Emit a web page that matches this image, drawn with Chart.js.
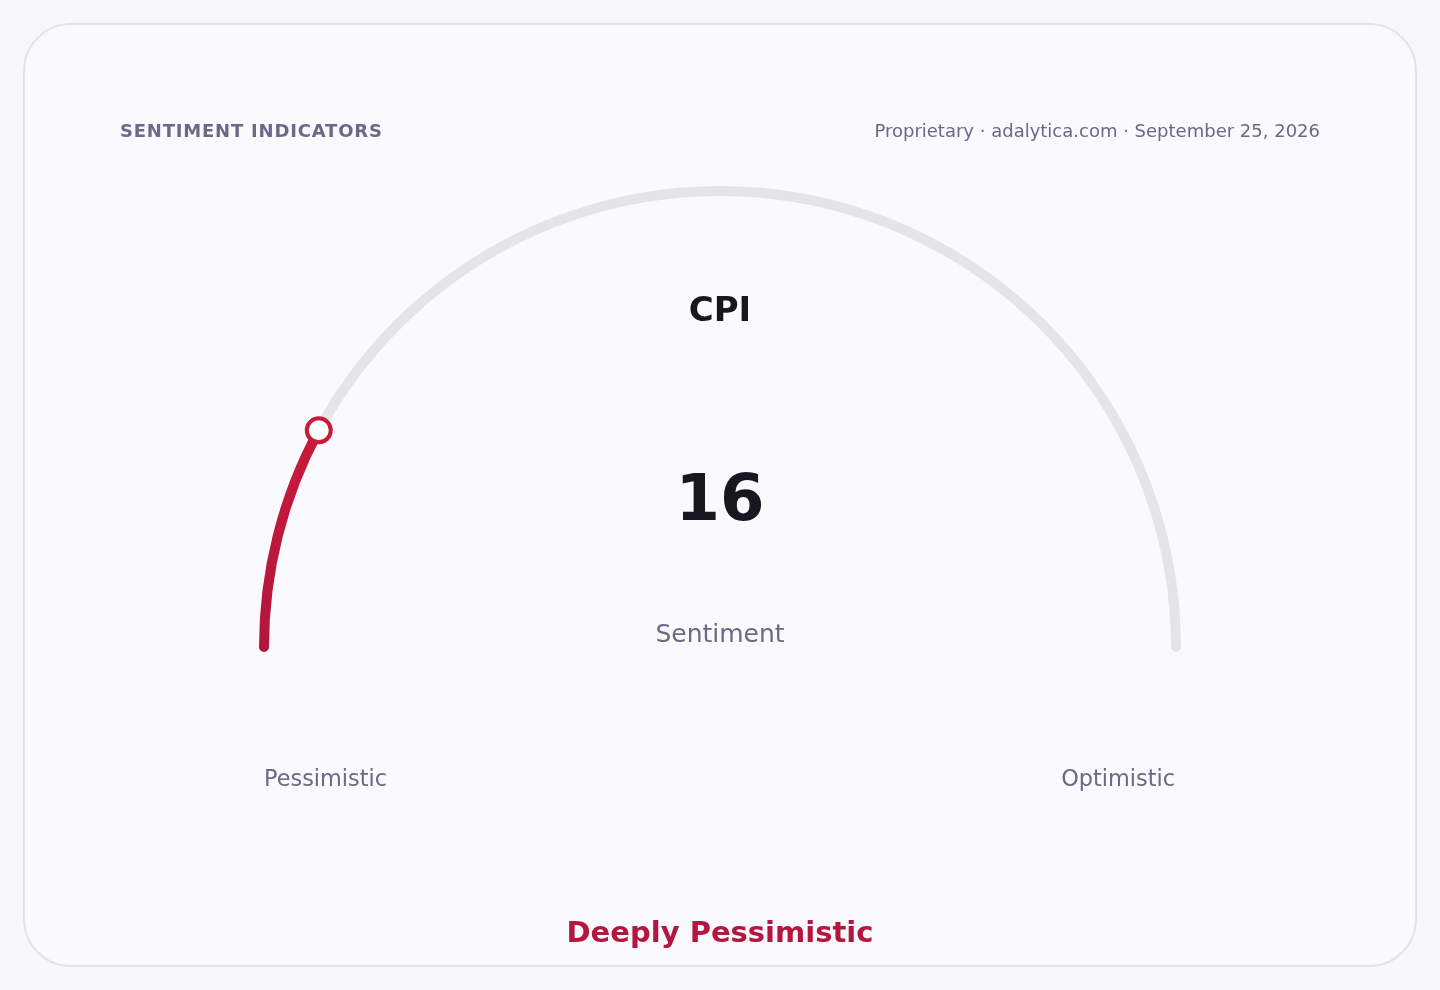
<!DOCTYPE html>
<html>
<head>
<meta charset="utf-8">
<script src="https://cdn.jsdelivr.net/npm/chart.js@4.4.1/dist/chart.umd.min.js"></script>
<style>
  html, body { margin: 0; padding: 0; background: #f8f8fc; }
  body { width: 1440px; height: 990px; position: relative; overflow: hidden; font-family: "DejaVu Sans", sans-serif; }
  .card {
    position: absolute; left: 23px; top: 23px; width: 1390px; height: 940px;
    border: 2px solid #e2e2ee; border-radius: 48px; background: #f9f9fe;
  }
  #gauge { position: absolute; left: 0; top: 0; }
  .txt { position: absolute; white-space: nowrap; line-height: 1; }
  .head { left: 120px; top: 122px; font-size: 18px; font-weight: bold; letter-spacing: 0.8px; color: #6c6888; }
  .meta { right: 120px; top: 122px; font-size: 18px; color: #6b6883; }
  .center { left: 0; width: 1440px; text-align: center; }
  .title { top: 292px; font-size: 34px; font-weight: bold; color: #17171f; }
  .value { top: 466px; font-size: 64px; font-weight: bold; color: #17171f; }
  .unit { top: 621px; font-size: 25px; color: #6b6985; }
  .zone { top: 767px; font-size: 22.4px; color: #6b6985; }
  .reading { top: 918px; font-size: 29px; font-weight: bold; color: #b3163e; }
</style>
</head>
<body>
<div class="card"></div>
<canvas id="gauge" width="1440" height="990"></canvas>
<div class="txt head" id="head"></div>
<div class="txt meta" id="meta"></div>
<div class="txt center title" id="title"></div>
<div class="txt center value" id="value"></div>
<div class="txt center unit" id="unit"></div>
<div class="txt zone" id="zoneLow" style="left:264px"></div>
<div class="txt zone" id="zoneHigh" style="right:265px"></div>
<div class="txt center reading" id="reading"></div>

<script>
  // Chart data
  const headerText = 'SENTIMENT INDICATORS';
  const sourceText = 'Proprietary · adalytica.com · September 25, 2026';
  const indexName = 'CPI';
  const indexValue = 16;
  const indexMax = 100;
  const valueUnit = 'Sentiment';
  const zoneLabels = ['Pessimistic', 'Optimistic'];
  const readingLabel = 'Deeply Pessimistic';

  const redDark = '#b2163d';
  const redLight = '#c91a3a';
  const trackColor = '#e5e4ea';

  document.getElementById('head').textContent = headerText;
  document.getElementById('meta').textContent = sourceText;
  document.getElementById('title').textContent = indexName;
  document.getElementById('value').textContent = indexValue;
  document.getElementById('unit').textContent = valueUnit;
  document.getElementById('zoneLow').textContent = zoneLabels[0];
  document.getElementById('zoneHigh').textContent = zoneLabels[1];
  document.getElementById('reading').textContent = readingLabel;

  // a little past 180 so the round caps reach just under the centre line
  const capDeg = 0.63;

  // Marker at the end of the value arc
  const markerPlugin = {
    id: 'marker',
    afterDatasetsDraw(chart) {
      const arc = chart.getDatasetMeta(0).data[0];
      if (!arc) return;
      const r = (arc.outerRadius + arc.innerRadius) / 2;
      const x = arc.x + r * Math.cos(arc.endAngle);
      const y = arc.y + r * Math.sin(arc.endAngle);
      const ctx = chart.ctx;
      ctx.save();
      ctx.beginPath();
      ctx.arc(x, y, 12, 0, Math.PI * 2);
      ctx.fillStyle = '#ffffff';
      ctx.fill();
      ctx.lineWidth = 4;
      ctx.strokeStyle = redLight;
      ctx.stroke();
      ctx.restore();
    }
  };

  const ctx = document.getElementById('gauge').getContext('2d');
  new Chart(ctx, {
    type: 'doughnut',
    data: {
      labels: [indexName, ''],
      datasets: [{
        data: [indexValue, indexMax - indexValue],
        backgroundColor: (c) => {
          if (c.dataIndex !== 0) return trackColor;
          const area = c.chart.chartArea;
          if (!area) return redDark;
          const g = c.chart.ctx.createLinearGradient(0, 650, 0, 425);
          g.addColorStop(0, redDark);
          g.addColorStop(1, redLight);
          return g;
        },
        borderWidth: 0,
        borderRadius: (c) => c.dataIndex === 0
          ? { outerStart: 5, innerStart: 5, outerEnd: 0, innerEnd: 0 }
          : { outerStart: 0, innerStart: 0, outerEnd: 5, innerEnd: 5 }
      }]
    },
    options: {
      responsive: false,
      animation: false,
      events: [],
      rotation: -90 - capDeg,
      circumference: 180 + 2 * capDeg,
      radius: 461,
      cutout: '97.83%',
      layout: { padding: { top: 0, left: 0, right: 0, bottom: 152 } },
      plugins: {
        legend: { display: false },
        tooltip: { enabled: false }
      }
    },
    plugins: [markerPlugin]
  });
</script>
</body>
</html>
